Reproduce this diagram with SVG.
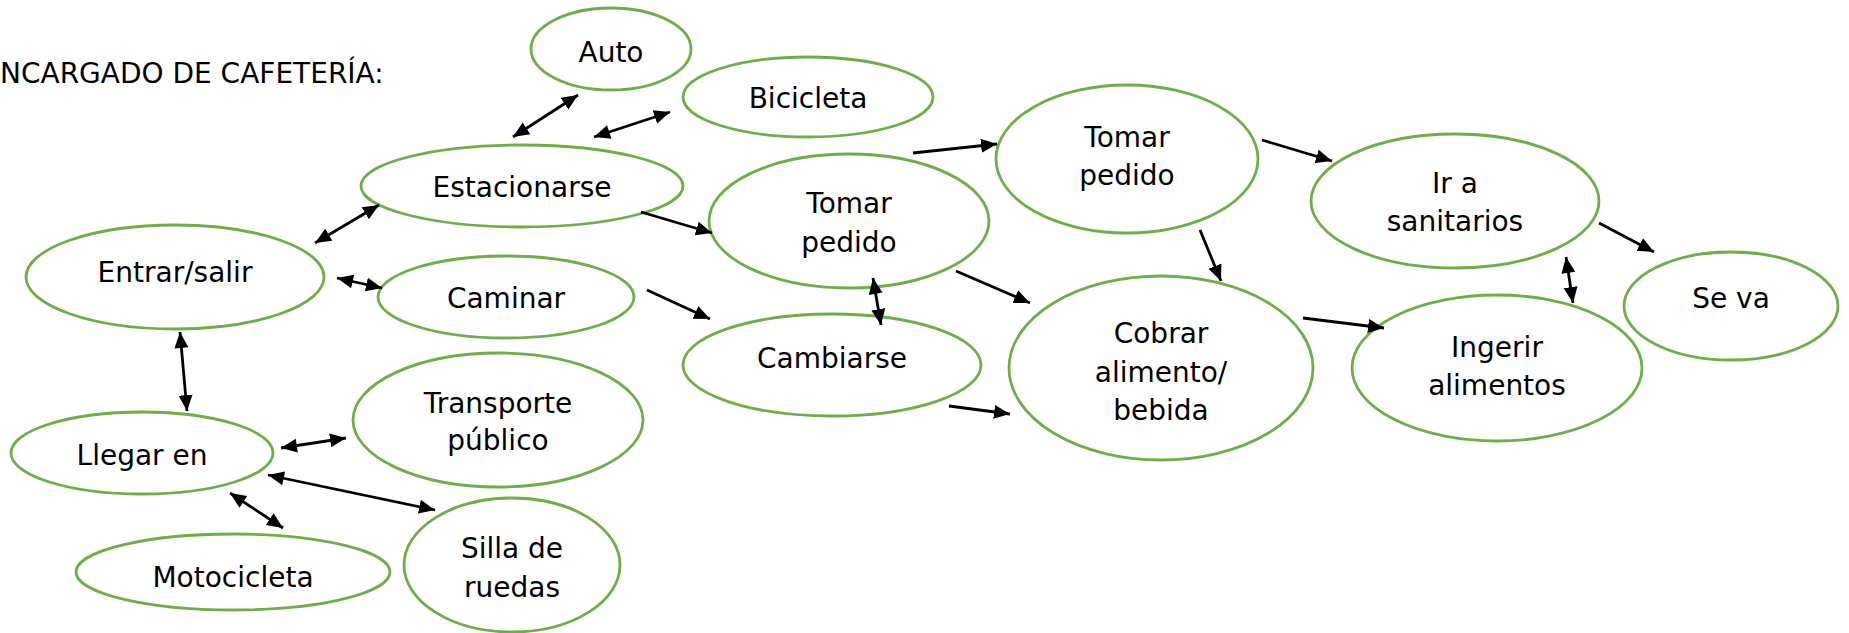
<svg xmlns="http://www.w3.org/2000/svg" width="1849" height="633" viewBox="0 0 1849 633">
<style>
.n ellipse{fill:#fff;stroke:#70AD47;stroke-width:2.8}
text{font-family:"DejaVu Sans","Liberation Sans",sans-serif;font-size:28px;fill:#000;text-anchor:middle}
.c line{stroke:#000;stroke-width:2.8}
.s{marker-end:url(#ah)}
.d{marker-end:url(#ah);marker-start:url(#as)}
</style>
<defs>
<marker id="ah" markerUnits="userSpaceOnUse" markerWidth="18" markerHeight="16" refX="16" refY="8" orient="auto"><path d="M0,1 L16,8 L0,15 Z" fill="#000"/></marker>
<marker id="as" markerUnits="userSpaceOnUse" markerWidth="18" markerHeight="16" refX="0" refY="8" orient="auto"><path d="M16,1 L0,8 L16,15 Z" fill="#000"/></marker>
</defs>
<rect width="1849" height="633" fill="#fff"/>
<text x="0" y="83" style="text-anchor:start">NCARGADO DE CAFETERÍA:</text>
<g class="n" id="auto"><ellipse cx="611" cy="49" rx="80" ry="41"/><text x="611" y="62">Auto</text></g>
<g class="n" id="bicicleta"><ellipse cx="808" cy="97" rx="125" ry="40"/><text x="808" y="108">Bicicleta</text></g>
<g class="n" id="estacionarse"><ellipse cx="522" cy="186" rx="161" ry="41"/><text x="522" y="197">Estacionarse</text></g>
<g class="n" id="entrar"><ellipse cx="175" cy="277" rx="149" ry="52"/><text x="175" y="282">Entrar/salir</text></g>
<g class="n" id="caminar"><ellipse cx="506" cy="297" rx="128" ry="41"/><text x="506" y="308">Caminar</text></g>
<g class="n" id="llegar"><ellipse cx="142" cy="453" rx="131" ry="41"/><text x="142" y="465">Llegar en</text></g>
<g class="n" id="transporte"><ellipse cx="498" cy="420" rx="145" ry="67"/><text x="498" y="413">Transporte</text><text x="498" y="450">público</text></g>
<g class="n" id="moto"><ellipse cx="233" cy="572" rx="157" ry="38"/><text x="233" y="587">Motocicleta</text></g>
<g class="n" id="silla"><ellipse cx="512" cy="565" rx="108" ry="67"/><text x="512" y="558">Silla de</text><text x="512" y="597">ruedas</text></g>
<g class="n" id="tomar1"><ellipse cx="849" cy="221" rx="140" ry="67"/><text x="849" y="213">Tomar</text><text x="849" y="252">pedido</text></g>
<g class="n" id="tomar2"><ellipse cx="1127" cy="159" rx="131" ry="74"/><text x="1127" y="147">Tomar</text><text x="1127" y="185">pedido</text></g>
<g class="n" id="cambiarse"><ellipse cx="832" cy="365" rx="149" ry="51"/><text x="832" y="368">Cambiarse</text></g>
<g class="n" id="cobrar"><ellipse cx="1161" cy="368" rx="152" ry="92"/><text x="1161" y="343">Cobrar</text><text x="1161" y="382">alimento/</text><text x="1161" y="420">bebida</text></g>
<g class="n" id="ir"><ellipse cx="1455" cy="201" rx="144" ry="67"/><text x="1455" y="193">Ir a</text><text x="1455" y="231">sanitarios</text></g>
<g class="n" id="seva"><ellipse cx="1731" cy="306" rx="107" ry="54"/><text x="1731" y="308">Se va</text></g>
<g class="n" id="ingerir"><ellipse cx="1497" cy="368" rx="145" ry="73"/><text x="1497" y="357">Ingerir</text><text x="1497" y="395">alimentos</text></g>
<g class="c" id="connectors">
<line class="d" x1="513" y1="137" x2="578" y2="95"/>
<line class="d" x1="594" y1="137" x2="670" y2="112"/>
<line class="d" x1="315" y1="243" x2="379" y2="205"/>
<line class="d" x1="337" y1="278" x2="382" y2="288"/>
<line class="d" x1="180" y1="332" x2="187" y2="411"/>
<line class="d" x1="281" y1="448" x2="346" y2="438"/>
<line class="d" x1="268" y1="475" x2="435" y2="510"/>
<line class="d" x1="230" y1="493" x2="283" y2="528"/>
<line class="s" x1="641" y1="212" x2="712" y2="233"/>
<line class="s" x1="647" y1="290" x2="710" y2="319"/>
<line class="s" x1="913" y1="153" x2="997" y2="144"/>
<line class="s" x1="956" y1="271" x2="1030" y2="303"/>
<line class="s" x1="1200" y1="230" x2="1221" y2="281"/>
<line class="s" x1="949" y1="406" x2="1010" y2="414"/>
<line class="d" x1="873" y1="278" x2="881" y2="325"/>
<line class="s" x1="1262" y1="140" x2="1332" y2="161"/>
<line class="s" x1="1303" y1="318" x2="1384" y2="328"/>
<line class="d" x1="1566" y1="257" x2="1573" y2="303"/>
<line class="s" x1="1599" y1="223" x2="1654" y2="252"/>
</g>
</svg>
